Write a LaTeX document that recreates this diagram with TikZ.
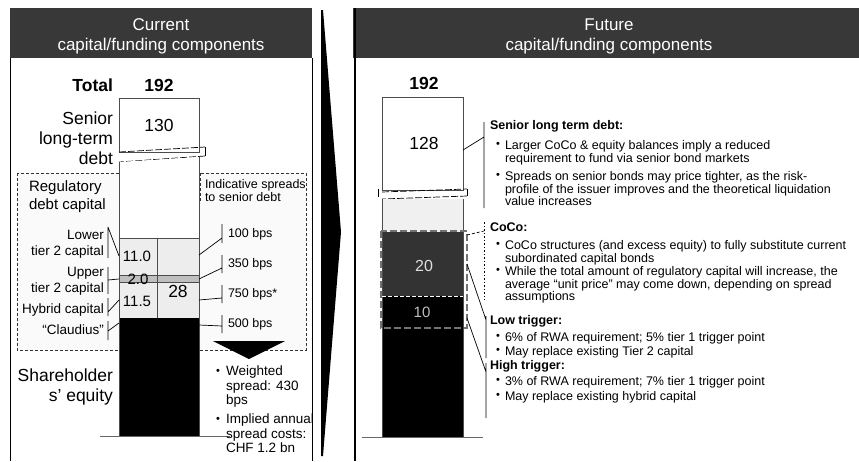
\documentclass[tikz,border=0pt]{standalone}
\usepackage{fontspec}
\setmainfont{Liberation Sans}
\newcommand\fsz[2]{\fontsize{#1}{#2}\selectfont}
\begin{document}
\begin{tikzpicture}[x=1pt,y=-1pt,
  lbl/.style={inner sep=0pt, outer sep=0pt},
  big/.style={lbl, font=\fsz{17.5}{20}},
  bigb/.style={lbl, font=\bfseries\fsz{17.5}{20}},
  mid/.style={lbl, font=\fsz{15}{18}},
  sml/.style={lbl, font=\fsz{13.5}{16}},
  bps/.style={lbl, font=\fsz{12.5}{13}},
  btx/.style={lbl, font=\fsz{13.5}{14.5}, align=left, anchor=north west},
  rtx/.style={lbl, font=\fsz{12.5}{12.5}, align=left, anchor=north west},
  rhd/.style={lbl, font=\bfseries\fsz{12.5}{12.5}, anchor=west},
  bul/.style={lbl, font=\fsz{11}{12}},
  hdr/.style={fill=black!78},
  hdrtext/.style={lbl, text=white, font=\fsz{17}{20}},
  barline/.style={draw=black!70, line width=0.8pt},
  brk/.style={line width=0.7pt},
  brkd/.style={line width=0.7pt, dash pattern=on 7pt off 2pt},
  dashbox/.style={draw=black!80, line width=0.9pt, dash pattern=on 3pt off 2pt},
  con/.style={line width=0.7pt},
]
\useasboundingbox (0,0) rectangle (859,461);
\fill[white] (0,0) rectangle (859,461);

% ---------- headers ----------
\fill[hdr] (10,8) rectangle (312,58);
\node[hdrtext] (curA) at (161,25) {Current};
\node[hdrtext] (curB) at (161,46) {capital/funding components};
\fill[hdr] (353,8) rectangle (859,58);
\node[hdrtext] (futA) at (609,25) {Future};
\node[hdrtext] (futB) at (609,46) {capital/funding components};

% ---------- frames ----------
\draw[line width=0.8pt] (10,58) -- (10,461);
\draw[line width=0.8pt] (312,58) -- (312,461);
\draw[line width=1.2pt] (355,8) -- (355,461);

% ---------- wedge ----------
\fill (321,10) -- (323,10) -- (341,232) -- (323,456) -- (321,456) -- cycle;

% ================= LEFT PANEL =================
\node[bigb, anchor=east] (total) at (113,85) {Total};
\node[bigb] (tot192) at (159,85) {192};
\node[big, anchor=east, align=right] (senlbl) at (113,138) {Senior\\long-term\\debt};

% dashed regulatory box
\draw[dashbox, fill=gray!4] (17,173) rectangle (306,350);
\draw[dashbox] (200,173) -- (200,203);
\node[mid, anchor=west, align=left, font=\fsz{15}{18}] (reglbl) at (29,197) {Regulatory\\debt capital};
\node[bps, anchor=west, align=left] (indlbl) at (205,191) {Indicative spreads\\to senior debt};

% bar top
\draw[barline, fill=white] (119,98) rectangle (199,152);
\node[big] (v130) at (159,125) {130};
\draw[brkd] (119,152) -- (205,147);
\draw[brk] (205,147) -- (205,156);
\draw[brkd] (205,156) -- (119,162);

% bar lower
\fill[white] (119,162) -- (199,157) -- (199,238) -- (119,238) -- cycle;
\fill[gray!14] (119,238) rectangle (199,275);
\fill[gray!50] (119,275) rectangle (199,282);
\fill[gray!14] (119,282) rectangle (199,318);
\fill[black] (119,318) rectangle (199,436);
\draw[barline] (119,162) -- (119,436) (199,157) -- (199,436);
\draw[barline] (119,238) -- (199,238) (157,238) -- (157,318) (119,275) -- (199,275) (119,282) -- (199,282);
\node[mid] (v110) at (137,256) {11.0};
\node[mid] (v20) at (138,279) {2.0};
\node[big] (v28) at (178,291) {28};
\node[mid] (v115) at (137,301) {11.5};
\draw[black!60, line width=0.8pt] (100,436) -- (230,436);

% bar attachment points
\coordinate (aLT) at (119,256);
\coordinate (aUT) at (119,279);
\coordinate (aHY) at (119,300);
\coordinate (aCL) at (119,323);
\coordinate (rLT) at (199,255);
\coordinate (rUT) at (199,279);
\coordinate (rHY) at (199,300);
\coordinate (rCL) at (199,325);

% left small labels
\node[sml, anchor=east, align=right] (lowl) at (104,244) {Lower\\tier 2 capital};
\node[sml, anchor=east, align=right] (uppl) at (104,281) {Upper\\tier 2 capital};
\node[sml, anchor=east] (hybl) at (104,310) {Hybrid capital};
\node[sml, anchor=east] (clal) at (104,330) {“Claudius”};

\coordinate (kLa) at (108,227); \coordinate (kLb) at (108,258);
\coordinate (kUa) at (108,267); \coordinate (kUb) at (108,294); \coordinate (kUm) at (108,280);
\coordinate (kHa) at (108,298); \coordinate (kHb) at (108,316); \coordinate (kHm) at (108,312);
\coordinate (kCa) at (108,321); \coordinate (kCb) at (108,340); \coordinate (kCm) at (108,331);
\draw[con] (kLa) -- (kLb) (kLa) -- (aLT);
\draw[con] (kUa) -- (kUb) (kUm) -- (aUT);
\draw[con] (kHa) -- (kHb) (kHm) -- (aHY);
\draw[con] (kCa) -- (kCb) (kCm) -- (aCL);

% right bps labels
\node[bps, anchor=west] (b100) at (228,234) {100 bps};
\node[bps, anchor=west] (b350) at (228,264) {350 bps};
\node[bps, anchor=west] (b750) at (228,294) {750 bps*};
\node[bps, anchor=west] (b500) at (228,324) {500 bps};
\coordinate (p1a) at (222,224); \coordinate (p1b) at (222,243); \coordinate (p1m) at (222,238);
\coordinate (p2a) at (222,255); \coordinate (p2b) at (222,273); \coordinate (p2m) at (222,268);
\coordinate (p3a) at (222,285); \coordinate (p3b) at (222,303); \coordinate (p3m) at (222,298);
\coordinate (p4a) at (222,315); \coordinate (p4b) at (222,333); \coordinate (p4m) at (222,326);
\draw[con] (p1a) -- (p1b) (p1m) -- (rLT);
\draw[con] (p2a) -- (p2b) (p2m) -- (rUT);
\draw[con] (p3a) -- (p3b) (p3m) -- (rHY);
\draw[con] (p4a) -- (p4b) (p4m) -- (rCL);

% down arrow
\fill (213,341) -- (285,341) -- (249,359) -- cycle;

% bullets left
\node[bul] (lb1) at (218,372) {•};
\node[btx] (lt1) at (226,366) {Weighted\\spread: 430\\bps};
\node[bul] (lb2) at (218,420) {•};
\node[btx] (lt2) at (226,414) {Implied annual\\spread costs:\\CHF 1.2 bn};

\node[big, anchor=east, align=right] (shlbl) at (113,387) {Shareholder\\s' equity};

% ================= RIGHT PANEL =================
\node[bigb] (fut192) at (424,83) {192};
\draw[barline, fill=white] (382,97) rectangle (463,190);
\node[big] (v128) at (424,143) {128};
\draw[brkd] (382,192) -- (467,189);
\draw[brk] (467,189) -- (467,196);
\draw[brkd] (467,196) -- (382,199);
\draw[brk] (378,189) -- (378,197);

\fill[gray!12] (382,199) rectangle (463,232);
\fill[black!80] (382,232) rectangle (463,296);
\fill[black] (382,296) rectangle (463,437);
\draw[barline] (382,199) -- (382,437) (463,199) -- (463,437);
\node[mid, text=gray!25, font=\fsz{16}{18}] (v20r) at (424,266) {20};
\node[mid, text=gray!50] (v10r) at (422,312) {10};
\draw[white, line width=0.8pt, dash pattern=on 4pt off 2pt] (382,296) -- (463,296);
\draw[black!55, line width=1.4pt, dash pattern=on 7pt off 3pt] (381,231) rectangle (467,328);
\draw[black!60, line width=0.8pt] (362,437) -- (483,437);

% connectors right
\coordinate (sA) at (484,122); \coordinate (sB) at (484,208); \coordinate (sM) at (484,137);
\coordinate (sBar) at (463,150);
\draw[con] (sA) -- (sB) (sBar) -- (sM);
\coordinate (cA) at (484,222); \coordinate (cB) at (484,300); \coordinate (cM) at (484,231);
\coordinate (cBar) at (467,235);
\draw[con, dash pattern=on 1.5pt off 2pt] (cA) -- (cB);
\draw[con, dash pattern=on 3pt off 2pt] (cBar) -- (cM);
\coordinate (lA) at (486,316); \coordinate (lB) at (486,358); \coordinate (lM) at (486,320);
\coordinate (lBar) at (467,264);
\draw[con] (lA) -- (lB) (lBar) -- (lM);
\coordinate (hA) at (486,363); \coordinate (hB) at (486,418); \coordinate (hM) at (486,372);
\coordinate (hBar) at (467,318);
\draw[con] (hA) -- (hB) (hBar) -- (hM);

% right text
\node[rhd] (hSen) at (490,126) {Senior long term debt:};
\node[bul] (r1) at (498,145) {•};
\node[rtx] (rt1) at (505,140.5) {Larger CoCo \& equity balances imply a reduced\\requirement to fund via senior bond markets};
\node[bul] (r2) at (498,176) {•};
\node[rtx] (rt2) at (505,171.5) {Spreads on senior bonds may price tighter, as the risk-\\profile of the issuer improves and the theoretical liquidation\\value increases};
\node[rhd] (hCoCo) at (490,227) {CoCo:};
\node[bul] (r3) at (498,245) {•};
\node[rtx] (rt3) at (505,240.5) {CoCo structures (and excess equity) to fully substitute current\\subordinated capital bonds};
\node[bul] (r4) at (498,271) {•};
\node[rtx] (rt4) at (505,266.5) {While the total amount of regulatory capital will increase, the\\average “unit price” may come down, depending on spread\\assumptions};
\node[rhd] (hLow) at (490,321) {Low trigger:};
\node[bul] (r5) at (498,337) {•};
\node[rtx] (rt5) at (505,332.5) {6\% of RWA requirement; 5\% tier 1 trigger point};
\node[bul] (r6) at (498,351) {•};
\node[rtx] (rt6) at (505,346.5) {May replace existing Tier 2 capital};
\node[rhd] (hHigh) at (490,366) {High trigger:};
\node[bul] (r7) at (498,381) {•};
\node[rtx] (rt7) at (505,376.5) {3\% of RWA requirement; 7\% tier 1 trigger point};
\node[bul] (r8) at (498,396) {•};
\node[rtx] (rt8) at (505,391.5) {May replace existing hybrid capital};
\end{tikzpicture}
\end{document}
